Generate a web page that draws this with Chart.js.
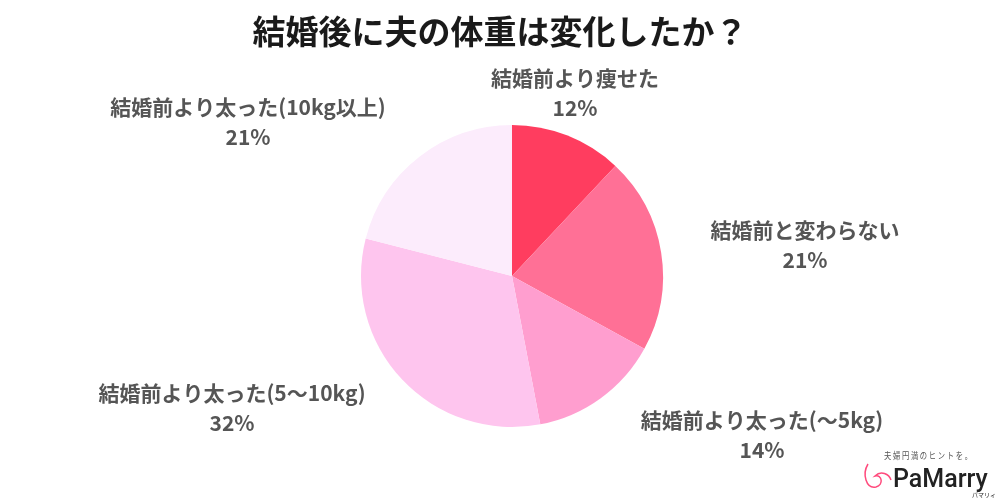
<!DOCTYPE html>
<html><head><meta charset="utf-8">
<script src="https://cdn.jsdelivr.net/npm/chart.js@4"></script>
<style>html,body{margin:0;padding:0;background:#fff}canvas{display:block}</style>
</head><body>
<canvas id="c" width="1000" height="500"></canvas>
<script>
const titleText = "結婚後に夫の体重は変化したか？";
const categories = ["結婚前より痩せた","結婚前と変わらない","結婚前より太った(〜5kg)","結婚前より太った(5〜10kg)","結婚前より太った(10kg以上)"];
const values = [12, 21, 14, 32, 21];
const colors = ["#ff3d5f","#ff7096","#ff9ecf","#fec5ee","#fcecfc"];
const labelCenters = [[575,78],[805,230],[762,420],[232,393],[248,107]];

const FONT = '"Noto Sans CJK JP", "Noto Sans", sans-serif';
const textPlugin = {
  id: 'texts',
  afterDraw(chart) {
    const ctx = chart.ctx;
    ctx.save();
    ctx.textAlign = 'center';
    ctx.textBaseline = 'middle';
    ctx.fillStyle = '#1a1a1a';
    ctx.font = 'bold 33px ' + FONT;
    ctx.fillText(titleText, 500, 31);
    ctx.fillStyle = '#555555';
    categories.forEach((c, i) => {
      const [x, y] = labelCenters[i];
      ctx.font = 'bold 21px ' + FONT;
      ctx.fillText(c, x, y);
      ctx.fillText(values[i] + '%', x, y + 30);
    });
    // logo
    ctx.fillStyle = '#555';
    ctx.font = '9px ' + FONT;
    ctx.fillText('夫 婦 円 満 の ヒ ン ト を 。', 928, 456, 88);
    ctx.fillStyle = '#222';
    ctx.font = '500 25px Roboto, sans-serif';
    ctx.textAlign = 'left';
    ctx.fillText('PaMarry', 893, 481, 95);
    ctx.font = '6px ' + FONT;
    ctx.fillText('パマリィ', 972, 495);
    ctx.strokeStyle = '#ff4b7d';
    ctx.lineWidth = 1.5;
    ctx.beginPath();
    ctx.moveTo(868, 464);
    ctx.bezierCurveTo(862, 474, 866, 489, 876, 487);
    ctx.bezierCurveTo(884, 485, 882, 474, 875, 476);
    ctx.bezierCurveTo(881, 470, 889, 474, 891, 480);
    ctx.stroke();
    ctx.restore();
  }
};

new Chart(document.getElementById('c'), {
  type: 'pie',
  data: {
    labels: categories,
    datasets: [{ data: values, backgroundColor: colors, borderWidth: 0 }]
  },
  options: {
    responsive: false,
    animation: false,
    layout: { padding: { top: 125, bottom: 73, left: 361, right: 337 } },
    plugins: { legend: { display: false }, tooltip: { enabled: false }, title: { display: false } }
  },
  plugins: [textPlugin]
});
</script>
</body></html>
